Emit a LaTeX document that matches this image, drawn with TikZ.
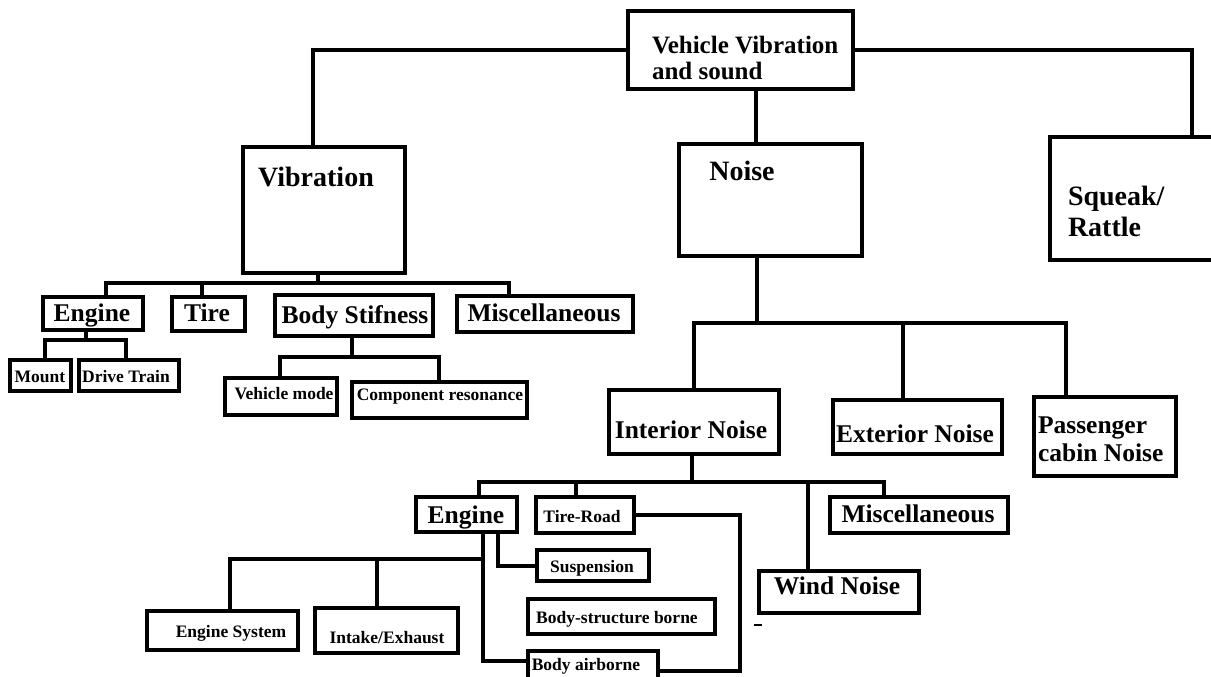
\documentclass[tikz,border=0pt]{standalone}
\usepackage{fontspec}
\setmainfont{Liberation Serif}
\begin{document}
\begin{tikzpicture}[x=1pt,y=-1pt,line width=4pt,
  box/.style={draw=black,line width=4pt,inner sep=0pt,fill=white},
  lbl/.style={inner sep=0pt,anchor=mid,text=black},
  ttl/.style={lbl,font=\fontsize{25}{26}\selectfont\bfseries,align=left},
  huge/.style={lbl,font=\fontsize{28}{31}\selectfont\bfseries,align=left},
  big/.style={lbl,font=\fontsize{25.5}{28}\selectfont\bfseries,align=left},
  sml/.style={lbl,font=\fontsize{17.5}{20}\selectfont\bfseries},
  wire/.style={draw=black,line width=4pt}]
\clip (0,0) rectangle (1211,677);
\useasboundingbox (0,0) rectangle (1211,677);
\fill[white] (0,0) rectangle (1211,677);

% ---- boxes ----
\node[box,minimum width=225pt,minimum height=78pt] (top) at (740.5,50) {};
\node[box,minimum width=162pt,minimum height=126pt] (vib) at (324,210) {};
\node[box,minimum width=183pt,minimum height=112pt] (noise) at (770.5,200) {};
\node[box,minimum width=170pt,minimum height=123pt] (squeak) at (1135,198.5) {};
\node[box,minimum width=100pt,minimum height=33pt] (vEngine) at (93,313.5) {};
\node[box,minimum width=73pt,minimum height=34pt] (tire) at (208.5,314) {};
\node[box,minimum width=158pt,minimum height=41pt] (body) at (354,315.5) {};
\node[box,minimum width=176pt,minimum height=36pt] (vmisc) at (545,314) {};
\node[box,minimum width=61pt,minimum height=31pt] (mount) at (40.5,375.5) {};
\node[box,minimum width=100pt,minimum height=31pt] (drive) at (129,375.5) {};
\node[box,minimum width=112pt,minimum height=37pt] (vmode) at (281,396.5) {};
\node[box,minimum width=175pt,minimum height=36pt] (comp) at (439.5,400) {};
\node[box,minimum width=170pt,minimum height=64pt] (interior) at (694,422) {};
\node[box,minimum width=169pt,minimum height=54pt] (exterior) at (917.5,427) {};
\node[box,minimum width=142pt,minimum height=79pt] (passenger) at (1105,436.5) {};
\node[box,minimum width=101pt,minimum height=35pt] (iEngine) at (466.5,514.5) {};
\node[box,minimum width=98pt,minimum height=36pt] (tireroad) at (585,515) {};
\node[box,minimum width=178pt,minimum height=36pt] (imisc) at (919,515) {};
\node[box,minimum width=160pt,minimum height=42pt] (wind) at (839,592) {};
\node[box,minimum width=112pt,minimum height=31pt] (susp) at (593,565.5) {};
\node[box,minimum width=187pt,minimum height=35pt] (bsb) at (621.5,616.5) {};
\node[box,minimum width=130pt,minimum height=39pt] (bair) at (593,670.5) {};
\node[box,minimum width=151pt,minimum height=39pt] (esys) at (222.5,630.5) {};
\node[box,minimum width=143pt,minimum height=45pt] (intake) at (386.5,630.5) {};

% ---- texts ----
\node[ttl,anchor=west] (tTop) at (650,58) {Vehicle Vibration\\and sound};
\node[huge] (tVib) at (316,184) {Vibration};
\node[huge] (tNoise) at (742,178) {Noise};
\node[huge,anchor=west] (tSq) at (1066,211) {Squeak/\\Rattle};
\node[big] (tvEng) at (92,319) {Engine};
\node[big] (tTire) at (207,319) {Tire};
\node[big] (tBody) at (355,321) {Body Stifness};
\node[big] (tvMisc) at (544,319) {Miscellaneous};
\node[sml] (tMount) at (40,380) {Mount};
\node[sml] (tDrive) at (126,380) {Drive Train};
\node[sml] (tVmode) at (284,397) {Vehicle mode};
\node[sml] (tComp) at (440,398) {Component resonance};
\node[big] (tInt) at (691,436) {Interior Noise};
\node[big] (tExt) at (915,440) {Exterior Noise};
\node[big,anchor=west] (tPas) at (1036,439) {Passenger\\cabin Noise};
\node[big] (tiEng) at (466,521) {Engine};
\node[sml] (tTR) at (582,520) {Tire-Road};
\node[big] (tiMisc) at (918,520) {Miscellaneous};
\node[big] (tWind) at (837,592) {Wind Noise};
\node[sml] (tSusp) at (592,570) {Suspension};
\node[sml] (tBsb) at (617,621) {Body-structure borne};
\node[sml] (tBair) at (586,668) {Body airborne};
\node[sml] (tEsys) at (231,635) {Engine System};
\node[sml] (tIntake) at (387,641) {Intake/Exhaust};

% ---- junctions ----
\coordinate (vb) at (318,283);
\coordinate (eb) at (86,340);
\coordinate (bb) at (352,357);
\coordinate (nb) at (757,323);
\coordinate (ib) at (692,482);
\coordinate (trc) at (740,600);
\coordinate (esb) at (483,559);

% ---- connectors ----
\draw[wire] (top.west) -| ([xshift=-11pt]vib.north);
\draw[wire] (top.east) -| ([xshift=57pt]squeak.north);
\draw[wire] ([xshift=15.5pt]top.south) -- ([xshift=-14.5pt]noise.north);

\draw[wire] ([xshift=-6pt]vib.south) -- (vb);
\draw[wire] ([xshift=13pt]vEngine.north) |- (vb);
\draw[wire] ([xshift=-6.5pt]tire.north) |- (vb);
\draw[wire] ([xshift=-36pt]vmisc.north) |- (vb);

\draw[wire] ([xshift=-7pt]vEngine.south) -- (eb);
\draw[wire] ([xshift=4.5pt]mount.north) |- (eb);
\draw[wire] ([xshift=-3pt]drive.north) |- (eb);

\draw[wire] ([xshift=-2pt]body.south) -- (bb);
\draw[wire] ([xshift=-1pt]vmode.north) |- (bb);
\draw[wire] ([xshift=-0.5pt]comp.north) |- (bb);

\draw[wire] ([xshift=-13.5pt]noise.south) -- (nb);
\draw[wire] (interior.north) |- (nb);
\draw[wire] ([xshift=-14.5pt]exterior.north) |- (nb);
\draw[wire] ([xshift=-39pt]passenger.north) |- (nb);

\draw[wire] ([xshift=-2pt]interior.south) -- (ib);
\draw[wire] ([xshift=12.5pt]iEngine.north) |- (ib);
\draw[wire] ([xshift=-9pt]tireroad.north) |- (ib);
\draw[wire] ([xshift=-31pt]wind.north) |- (ib);
\draw[wire] ([xshift=-35pt]imisc.north) |- (ib);

\draw[wire] (tireroad.east) -| (trc) |- (bair.east);
\draw[wire] ([xshift=31.5pt]iEngine.south) |- (susp.west);
\draw[wire] ([xshift=16.5pt]iEngine.south) |- ([yshift=9.5pt]bair.west);
\draw[wire] (esb) -| ([xshift=7.5pt]esys.north);
\draw[wire] ([xshift=-9.5pt]intake.north) |- (esb);

% stray mark
\draw[line width=1.2pt] (754,625) -- (762,625);
\end{tikzpicture}
\end{document}
